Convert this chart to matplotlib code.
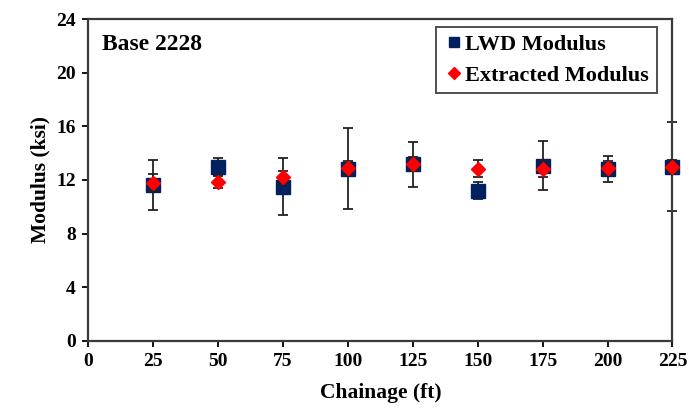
import numpy as np
import matplotlib.pyplot as plt

plt.rcParams['font.family'] = ['Liberation Serif', 'DejaVu Serif']
plt.rcParams['font.weight'] = 'bold'

# data
chainage = [25, 50, 75, 100, 125, 150, 175, 200, 225]
lwd_mod = [11.6, 13.0, 11.5, 12.85, 13.15, 11.2, 13.05, 12.82, 13.0]
lwd_err = [1.86, 0.65, 2.15, 3.0, 1.65, 0.65, 1.83, 0.98, 3.35]
ext_mod = [11.8, 11.85, 12.2, 12.9, 13.2, 12.85, 12.83, 12.88, 13.0]
ext_err = [0.65, 0.45, 0.5, 0.5, 0.5, 0.65, 0.63, 0.5, 0.5]

fig = plt.figure(figsize=(6.89, 4.15), dpi=100)
ax = fig.add_axes([0.128, 0.179, 0.848, 0.775])

eb_style = dict(fmt='none', ecolor='#222222', elinewidth=1.3, capsize=3.5,
                capthick=1.3)
e1 = ax.errorbar(chainage, lwd_mod, yerr=lwd_err, zorder=2, **eb_style)
ax.plot(chainage, lwd_mod, 's', color='#002060', ms=10, ls='none',
        label='LWD Modulus', zorder=3, clip_on=False)
e2 = ax.errorbar(chainage, ext_mod, yerr=ext_err, zorder=4, **eb_style)
ax.plot(chainage, ext_mod, 'D', color='#ff0000', ms=7.5, ls='none',
        label='Extracted Modulus', zorder=5, clip_on=False)
for e in (e1, e2):
    for part in e.lines[1] + e.lines[2]:
        part.set_clip_on(False)

ax.set_xlim(0, 225)
ax.set_ylim(0, 24)
ax.set_xticks(np.arange(0, 226, 25))
ax.set_yticks(np.arange(0, 25, 4))
ax.tick_params(direction='out', length=4, width=1.3, labelsize=14, pad=5)
for s in ax.spines.values():
    s.set_linewidth(1.6)
    s.set_color('#3a3a3a')

ax.set_xlabel('Chainage (ft)', fontsize=15.5, fontweight='bold', labelpad=9)
ax.set_ylabel('Modulus (ksi)', fontsize=15.5, fontweight='bold', labelpad=4)
ax.text(0.023, 0.955, 'Base 2228', transform=ax.transAxes, fontsize=17,
        fontweight='bold', va='top', ha='left')

leg = ax.legend(loc='upper right', fontsize=16, frameon=True, fancybox=False,
                handletextpad=0.05, handlelength=0.9, borderpad=0.35,
                labelspacing=0.45, markerscale=0.75,
                bbox_to_anchor=(0.973, 0.976), borderaxespad=0)
leg.get_frame().set_edgecolor('#222222')
leg.get_frame().set_linewidth(1.4)

fig.savefig('out.png', dpi=100)
